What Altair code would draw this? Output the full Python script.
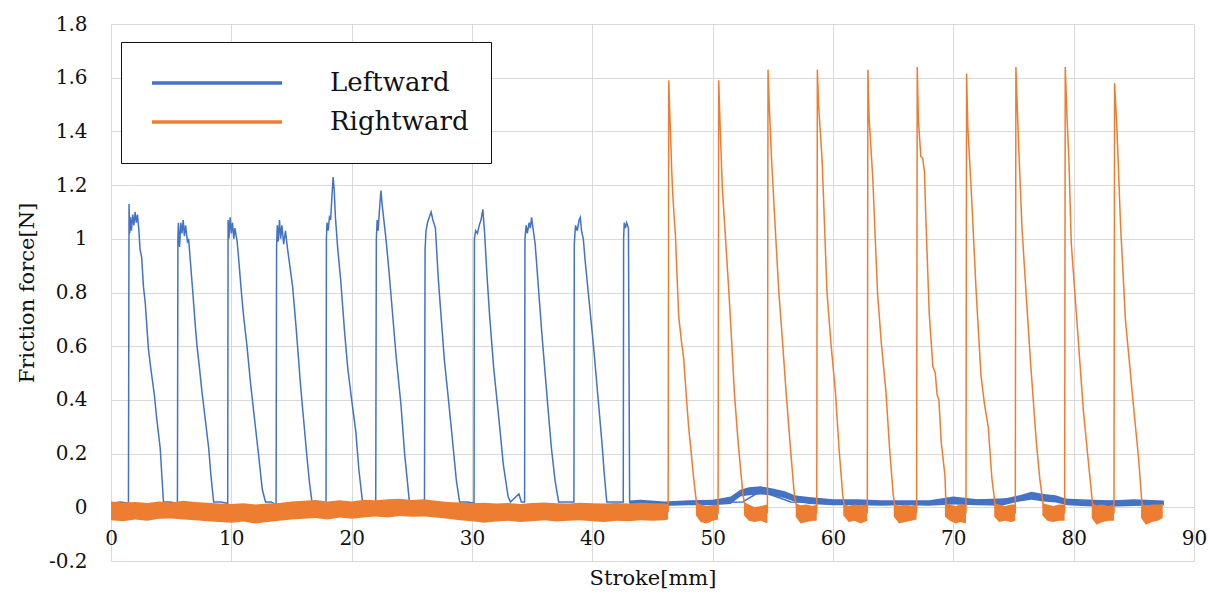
import altair as alt
import pandas as pd

# ---------------- Leftward (blue) trace, key points ----------------
left_x = [0.0, 0.8, 1.45,
          1.5, 1.55, 1.62, 1.7, 1.8, 1.9, 2.0, 2.1, 2.2, 2.3, 2.42, 2.55, 2.7, 2.85, 3.0, 3.11, 3.3, 3.39, 3.6, 3.8, 4.09, 4.25, 4.36,
          4.9, 5.52,
          5.56, 5.6, 5.7, 5.8, 5.9, 6.0, 6.1, 6.2, 6.35, 6.45, 6.59, 6.8, 7.0, 7.15, 7.35, 7.56, 7.8, 8.12, 8.3, 8.53,
          9.1, 9.7,
          9.73, 9.8, 9.9, 10.0, 10.1, 10.2, 10.3, 10.48, 10.6, 10.8, 11.0, 11.3, 11.6, 12.0, 12.3, 12.57, 12.84,
          13.3, 13.72,
          13.76, 13.82, 13.9, 14.0, 14.1, 14.2, 14.35, 14.5, 14.65, 14.8, 15.1, 15.4, 15.76, 16.0, 16.3, 16.5, 16.7,
          17.3, 17.87,
          17.9, 17.95, 18.05, 18.15, 18.25, 18.35, 18.46, 18.55, 18.65, 18.83, 19.1, 19.4, 19.66, 19.75, 20.0, 20.35, 20.6, 20.9,
          21.5, 22.0,
          22.05, 22.12, 22.2, 22.3, 22.43, 22.55, 22.7, 22.85, 23.1, 23.4, 23.7, 24.1, 24.4, 24.8,
          25.5, 26.05,
          26.1, 26.18, 26.3, 26.45, 26.6, 26.75, 26.96, 27.2, 27.45, 27.7, 28.0, 28.4, 28.7, 28.97,
          29.6, 30.17,
          30.2, 30.3, 30.45, 30.6, 30.75, 30.9, 31.05, 31.25, 31.47, 31.8, 32.3, 32.6, 33.0, 33.2, 33.9, 34.1, 34.37,
          34.4, 34.5, 34.6, 34.75, 34.85, 34.95, 35.1, 35.25, 35.45, 35.8, 36.3, 36.6, 36.9, 37.2,
          37.9, 38.47,
          38.5, 38.6, 38.75, 38.9, 39.0, 39.1, 39.25, 39.4, 39.75, 40.1, 40.45, 40.8, 41.0, 41.2,
          41.9, 42.57,
          42.6, 42.65, 42.75, 42.85, 43.0, 43.1,
          46.0, 52.5, 54.0, 56.5, 65.0, 76.5, 87.5]
left_y = [0.015, 0.02, 0.015,
          1.13, 1.02, 1.08, 1.03, 1.09, 1.05, 1.10, 1.06, 1.09, 1.04, 0.96, 0.93, 0.82, 0.76, 0.66, 0.59, 0.52, 0.49, 0.42, 0.33, 0.22, 0.10, 0.02,
          0.02, 0.015,
          1.00, 1.06, 0.97, 1.06, 1.02, 1.07, 1.01, 1.05, 0.99, 1.00, 0.92, 0.80, 0.68, 0.60, 0.52, 0.43, 0.34, 0.22, 0.12, 0.02,
          0.02, 0.015,
          1.07, 1.00, 1.08, 1.02, 1.06, 1.00, 1.04, 0.99, 0.93, 0.82, 0.72, 0.60, 0.46, 0.30, 0.18, 0.067, 0.02,
          0.02, 0.01,
          0.97, 1.05, 0.99, 1.07, 1.00, 1.05, 0.98, 1.03, 0.97, 0.92, 0.82, 0.66, 0.45, 0.33, 0.18, 0.09, 0.02,
          0.02, 0.015,
          1.00, 1.06, 1.03, 1.08, 1.07, 1.15, 1.23, 1.18, 1.08, 0.97, 0.84, 0.66, 0.525, 0.49, 0.40, 0.28, 0.14, 0.02,
          0.02, 0.015,
          1.00, 1.07, 1.03, 1.10, 1.18, 1.12, 1.06, 1.00, 0.88, 0.72, 0.56, 0.38, 0.20, 0.02,
          0.02, 0.015,
          0.96, 1.03, 1.06, 1.08, 1.10, 1.07, 1.04, 0.85, 0.70, 0.55, 0.42, 0.24, 0.10, 0.02,
          0.02, 0.015,
          1.00, 1.03, 1.02, 1.05, 1.07, 1.11, 1.02, 0.86, 0.71, 0.52, 0.30, 0.16, 0.04, 0.02, 0.05, 0.02, 0.02,
          1.00, 1.05, 1.02, 1.06, 1.04, 1.08, 1.03, 0.98, 0.86, 0.65, 0.377, 0.22, 0.10, 0.02,
          0.02, 0.02,
          0.98, 1.05, 1.03, 1.07, 1.08, 1.03, 1.00, 0.92, 0.76, 0.60, 0.42, 0.24, 0.12, 0.02,
          0.02, 0.02,
          1.00, 1.06, 1.04, 1.06, 1.04, 0.02,
          0.015, 0.02, 0.06, 0.02, 0.015, 0.035, 0.015]

# Noise envelope of the blue baseline after the last leftward peak (x, low, high)
left_band_x = [43.1, 44.0, 46.0, 48.0, 50.0, 51.5, 52.3, 53.0, 54.0, 55.0, 56.0, 56.8, 58.0,
               60.0, 62.0, 64.0, 66.0, 68.0, 70.0, 72.0, 74.0, 75.5, 76.5, 77.5, 78.5, 79.5, 81.0, 83.0, 85.0, 87.5]
left_band_lo = [0.006, 0.008, 0.005, 0.008, 0.008, 0.012, 0.04, 0.045, 0.048, 0.044, 0.034, 0.022, 0.012,
                0.008, 0.008, 0.006, 0.008, 0.006, 0.01, 0.008, 0.006, 0.022, 0.028, 0.022, 0.018, 0.008, 0.004, 0.002, 0.005, 0.008]
left_band_hi = [0.025, 0.028, 0.022, 0.026, 0.028, 0.04, 0.065, 0.075, 0.078, 0.07, 0.06, 0.045, 0.038,
                0.03, 0.03, 0.026, 0.026, 0.026, 0.04, 0.03, 0.03, 0.045, 0.058, 0.05, 0.045, 0.03, 0.025, 0.025, 0.03, 0.025]

# ---------------- Rightward (orange) trace ----------------
right_x = [0.0, 46.3,
           46.35, 46.45, 46.5, 46.6, 46.68, 46.8, 46.9, 47.05, 47.18, 47.4, 47.6, 47.8, 48.0, 48.2, 48.4, 48.7,
           50.45, 50.5, 50.6, 50.8, 51.1, 51.35, 51.6, 51.8, 52.1, 52.5, 52.7,
           54.55, 54.6, 54.7, 54.9, 55.2, 55.5, 55.8, 56.1, 56.5, 56.8, 57.0,
           58.65, 58.7, 58.8, 59.1, 59.5, 59.85, 60.2, 60.5, 60.8, 60.95,
           62.85, 62.9, 63.0, 63.3, 63.7, 64.0, 64.4, 64.7, 65.0, 65.15,
           66.95, 67.0, 67.1, 67.3, 67.45, 67.6, 67.7, 67.8, 68.0, 68.3, 68.5, 68.65, 68.8, 69.0, 69.3, 69.4,
           71.05, 71.1, 71.2, 71.5, 71.9, 72.3, 72.6, 72.9, 73.2, 73.5,
           75.15, 75.2, 75.4, 75.7, 75.9, 76.4, 76.9, 77.2, 77.5,
           79.25, 79.3, 79.45, 79.6, 79.8, 80.3, 80.8, 81.2, 81.6,
           83.35, 83.4, 83.6, 83.9, 84.3, 85.0, 85.4, 85.7, 87.4]
right_y = [-0.015, -0.015,
           1.59, 1.45, 1.39, 1.25, 1.17, 1.08, 1.02, 0.85, 0.71, 0.62, 0.55, 0.42, 0.30, 0.21, 0.116, 0.0,
           -0.02, 1.59, 1.45, 1.19, 0.98, 0.80, 0.60, 0.43, 0.25, 0.055, 0.0,
           -0.02, 1.63, 1.50, 1.29, 1.04, 0.80, 0.62, 0.43, 0.20, 0.04, 0.0,
           -0.02, 1.63, 1.50, 1.29, 0.80, 0.60, 0.43, 0.22, 0.05, 0.0,
           -0.02, 1.63, 1.45, 1.23, 0.80, 0.62, 0.43, 0.22, 0.05, 0.0,
           -0.02, 1.64, 1.44, 1.306, 1.30, 1.25, 1.10, 0.97, 0.72, 0.525, 0.50, 0.42, 0.40, 0.24, 0.12, 0.0,
           -0.02, 1.616, 1.42, 1.17, 0.80, 0.49, 0.38, 0.30, 0.11, 0.0,
           -0.02, 1.64, 1.38, 1.046, 0.90, 0.55, 0.24, 0.10, 0.0,
           -0.02, 1.64, 1.45, 1.30, 0.984, 0.674, 0.364, 0.18, 0.0,
           -0.02, 1.579, 1.405, 1.046, 0.70, 0.364, 0.18, 0.0, -0.02]

# Noise envelope of the orange baseline: segment id, x, low, high
right_band_seg = [0] * 48 + [1] * 5 + [2] * 5 + [3] * 5 + [4] * 5 + [5] * 5 + [6] * 5 + [7] * 5 + [8] * 5 + [9] * 5 + [10] * 5
right_band_x = [0, 1, 2, 3, 4, 5, 6, 7, 8, 9, 10, 11, 12, 13, 14, 15, 16, 17, 18, 19, 20, 21, 22, 23, 24, 25, 26, 27, 28, 29,
                30, 31, 32, 33, 34, 35, 36, 37, 38, 39, 40, 41, 42, 43, 44, 45, 46, 46.3,
                48.6, 49.0, 49.5, 50.0, 50.45,
                52.6, 53.0, 53.5, 54.0, 54.55,
                56.9, 57.3, 57.8, 58.3, 58.65,
                60.85, 61.3, 61.8, 62.3, 62.85,
                65.05, 65.5, 66.0, 66.5, 66.95,
                69.3, 69.7, 70.2, 70.6, 71.05,
                73.4, 73.8, 74.3, 74.8, 75.15,
                77.4, 77.8, 78.3, 78.8, 79.25,
                81.5, 81.9, 82.4, 82.9, 83.35,
                85.6, 86.0, 86.5, 87.0, 87.4]
right_band_hi = [0.022, 0.018, 0.02, 0.016, 0.022, 0.018, 0.024, 0.02, 0.017, 0.014, 0.012, 0.015, 0.01, 0.014, 0.016, 0.022,
                 0.024, 0.027, 0.022, 0.026, 0.022, 0.028, 0.026, 0.03, 0.032, 0.027, 0.03, 0.024, 0.02, 0.018, 0.015, 0.017,
                 0.014, 0.016, 0.012, 0.016, 0.018, 0.015, 0.014, 0.017, 0.015, 0.014, 0.016, 0.014, 0.017, 0.015, 0.014, 0.012,
                 0.02, 0.01, 0.005, 0.008, 0.01,
                 0.02, 0.01, 0.0, 0.005, 0.01,
                 0.015, 0.008, 0.01, 0.005, 0.01,
                 0.015, 0.005, 0.01, 0.008, 0.01,
                 0.015, 0.005, 0.01, 0.005, 0.01,
                 0.015, 0.01, 0.005, 0.01, 0.01,
                 0.015, 0.01, 0.005, 0.01, 0.01,
                 0.015, 0.01, 0.005, 0.01, 0.01,
                 0.015, 0.008, 0.01, 0.005, 0.01,
                 0.015, 0.005, 0.01, 0.01, 0.012]
right_band_lo = [-0.048, -0.052, -0.045, -0.05, -0.043, -0.042, -0.045, -0.048, -0.052, -0.055, -0.058, -0.053, -0.06, -0.055,
                 -0.05, -0.045, -0.043, -0.04, -0.045, -0.038, -0.043, -0.038, -0.034, -0.038, -0.032, -0.035, -0.034, -0.038,
                 -0.043, -0.048, -0.052, -0.058, -0.053, -0.05, -0.055, -0.052, -0.048, -0.053, -0.05, -0.048, -0.052, -0.055,
                 -0.05, -0.052, -0.048, -0.05, -0.048, -0.045,
                 -0.03, -0.055, -0.06, -0.05, -0.045,
                 -0.03, -0.05, -0.055, -0.05, -0.06,
                 -0.035, -0.06, -0.055, -0.05, -0.05,
                 -0.03, -0.055, -0.05, -0.06, -0.05,
                 -0.035, -0.06, -0.055, -0.05, -0.045,
                 -0.035, -0.05, -0.06, -0.055, -0.06,
                 -0.035, -0.055, -0.05, -0.055, -0.05,
                 -0.03, -0.05, -0.055, -0.05, -0.05,
                 -0.04, -0.065, -0.055, -0.05, -0.05,
                 -0.04, -0.065, -0.055, -0.05, -0.04]

x_ticks = [0, 10, 20, 30, 40, 50, 60, 70, 80, 90]
y_ticks = [-0.2, 0, 0.2, 0.4, 0.6, 0.8, 1.0, 1.2, 1.4, 1.6, 1.8]
series_names = ["Leftward", "Rightward"]
series_colors = ["#4472C4", "#ED7D31"]

FONT = "DejaVu Serif"
TXT = "#111111"

lines = pd.DataFrame({
    "series": ["Leftward"] * len(left_x) + ["Rightward"] * len(right_x),
    "order": list(range(len(left_x))) + list(range(len(right_x))),
    "x": left_x + right_x,
    "y": left_y + right_y,
})
left_band = pd.DataFrame({"x": left_band_x, "lo": left_band_lo, "hi": left_band_hi})
right_band = pd.DataFrame({"seg": right_band_seg, "x": right_band_x, "lo": right_band_lo, "hi": right_band_hi})

xscale = alt.Scale(domain=[0, 90], nice=False, zero=False)
yscale = alt.Scale(domain=[-0.2, 1.8], nice=False, zero=False)

xaxis = alt.Axis(values=x_ticks, grid=True, gridColor="#D9D9D9", gridWidth=1, domain=False, ticks=False, tickSize=0,
                 offset=-54, labelPadding=21, labelFlush=False, labelFont=FONT, labelFontSize=20, labelColor=TXT,
                 title="Stroke[mm]", titleFont=FONT, titleFontSize=21, titleFontWeight="normal", titleColor=TXT,
                 titleY=77, titleBaseline="alphabetic")
yaxis = alt.Axis(values=y_ticks, grid=True, gridColor="#D9D9D9", gridWidth=1, domain=False, ticks=False, tickSize=0,
                 labelPadding=24, labelFlush=False, labelFont=FONT, labelFontSize=20, labelColor=TXT,
                 labelExpr="toString(round(datum.value*10)/10)",
                 title="Friction force[N]", titleFont=FONT, titleFontSize=21, titleFontWeight="normal",
                 titleColor=TXT, titleX=-78, titleBaseline="alphabetic")

band_blue = alt.Chart(left_band).mark_area(color=series_colors[0], opacity=1).encode(
    x=alt.X("x:Q", scale=xscale, axis=xaxis),
    y=alt.Y("lo:Q", scale=yscale, axis=yaxis),
    y2="hi:Q",
)

line = alt.Chart(lines).mark_line(strokeWidth=1.5).encode(
    x=alt.X("x:Q", scale=xscale),
    y=alt.Y("y:Q", scale=yscale),
    order="order:Q",
    color=alt.Color("series:N", scale=alt.Scale(domain=series_names, range=series_colors),
                    legend=alt.Legend(orient="none", legendX=10, legendY=18, title=None,
                                      symbolType="stroke", symbolSize=16900, symbolStrokeWidth=3.5,
                                      symbolOffset=7, clipHeight=38, rowPadding=1, padding=22, labelOffset=46,
                                      labelFont=FONT, labelFontSize=26, labelColor=TXT,
                                      strokeColor="#111111", fillColor="white")),
)

band_orange = alt.Chart(right_band).mark_area(color=series_colors[1], opacity=1).encode(
    x=alt.X("x:Q", scale=xscale),
    y=alt.Y("lo:Q", scale=yscale),
    y2="hi:Q",
    detail="seg:N",
)

chart = alt.layer(band_blue, line, band_orange).properties(
    width=1083, height=537,
    autosize=alt.AutoSizeParams(type="none"),
    padding={"left": 111, "top": 24, "right": 16, "bottom": 36},
    background="white",
).configure_view(stroke=None)

chart.save("out.html", embed_options={"renderer": "svg", "actions": False})
